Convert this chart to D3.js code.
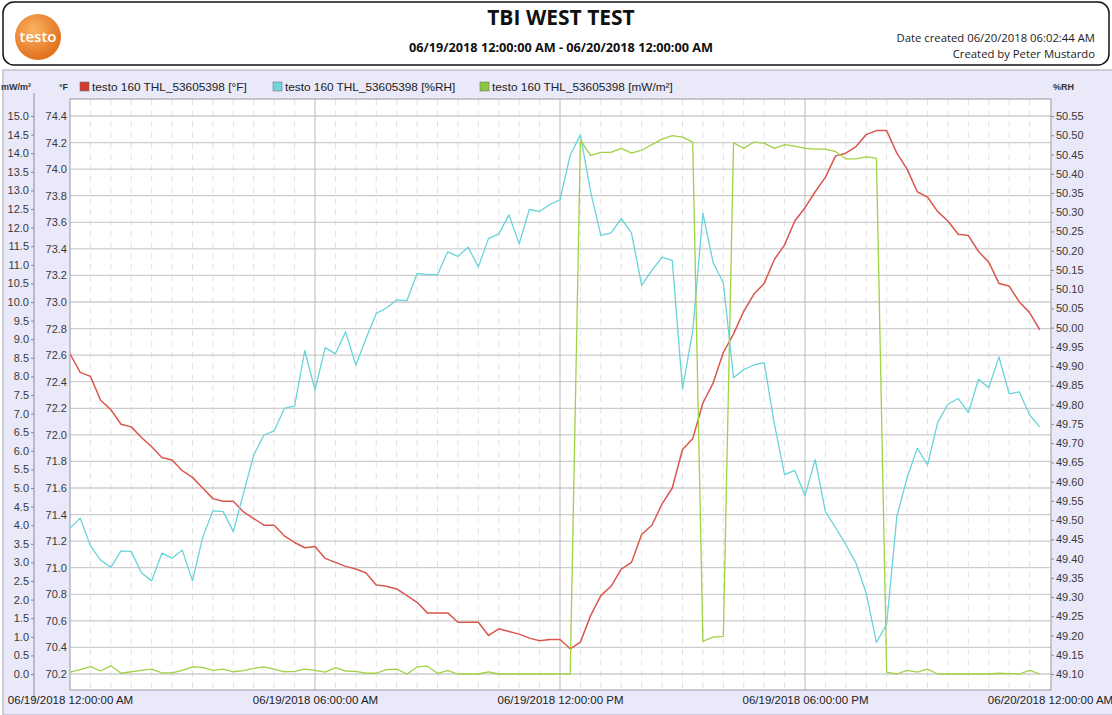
<!DOCTYPE html>
<html>
<head>
<meta charset="utf-8">
<script src="https://cdn.jsdelivr.net/npm/d3@7"></script>
<style>
  html, body { margin: 0; padding: 0; background: #fff; overflow: hidden; }
  svg { display: block; }
  .tick text { font-family: "Liberation Sans", Arial, sans-serif; }
</style>
</head>
<body>
<div id="graph"></div>
<script>
'use strict';

// ---- data (15 minute readings, 06/19/2018 00:00 -> 23:45) ----
const startTime = new Date(2018, 5, 19, 0, 0, 0);
const stepMinutes = 15;

const tempF = [
  72.61, 72.47, 72.44, 72.26, 72.19, 72.08, 72.06, 71.98, 71.91, 71.83, 71.81, 71.73,
  71.68, 71.60, 71.52, 71.50, 71.50, 71.42, 71.37, 71.32, 71.32, 71.24, 71.19, 71.15,
  71.16, 71.07, 71.04, 71.01, 70.99, 70.96, 70.87, 70.86, 70.84, 70.79, 70.74, 70.66,
  70.66, 70.66, 70.59, 70.59, 70.59, 70.49, 70.54, 70.52, 70.50, 70.47, 70.45, 70.46,
  70.46, 70.39, 70.44, 70.64, 70.79, 70.86, 70.99, 71.04, 71.25, 71.32, 71.48, 71.60,
  71.89, 71.97, 72.24, 72.39, 72.62, 72.76, 72.93, 73.06, 73.14, 73.32, 73.43, 73.61,
  73.71, 73.83, 73.94, 74.10, 74.12, 74.17, 74.26, 74.29, 74.29, 74.12, 74.00, 73.83,
  73.79, 73.68, 73.61, 73.51, 73.50, 73.38, 73.30, 73.14, 73.12, 73.00, 72.92, 72.79
];

const humidityRH = [
  49.479, 49.505, 49.433, 49.396, 49.377, 49.420, 49.418, 49.363, 49.342, 49.414, 49.401, 49.422,
  49.342, 49.455, 49.524, 49.522, 49.470, 49.570, 49.669, 49.721, 49.732, 49.790, 49.796, 49.940,
  49.838, 49.948, 49.932, 49.989, 49.903, 49.972, 50.037, 50.051, 50.072, 50.070, 50.141, 50.138,
  50.138, 50.197, 50.185, 50.209, 50.158, 50.232, 50.243, 50.293, 50.218, 50.307, 50.302, 50.320,
  50.332, 50.448, 50.501, 50.353, 50.240, 50.246, 50.283, 50.246, 50.110, 50.149, 50.183, 50.174,
  49.841, 49.991, 50.297, 50.169, 50.116, 49.870, 49.891, 49.903, 49.909, 49.750, 49.618, 49.629,
  49.563, 49.657, 49.522, 49.480, 49.436, 49.388, 49.309, 49.182, 49.230, 49.510, 49.610, 49.687,
  49.643, 49.754, 49.801, 49.816, 49.779, 49.866, 49.844, 49.924, 49.828, 49.833, 49.773, 49.742
];

const lightMW = [
  0.05, 0.12, 0.20, 0.08, 0.22, 0.02, 0.06, 0.10, 0.13, 0.03, 0.03, 0.10,
  0.19, 0.18, 0.10, 0.13, 0.06, 0.09, 0.15, 0.19, 0.13, 0.06, 0.07, 0.13,
  0.10, 0.05, 0.17, 0.08, 0.07, 0.02, 0.02, 0.12, 0.13, 0.00, 0.19, 0.21,
  0.02, 0.09, 0.00, 0.00, 0.00, 0.06, 0.00, 0.00, 0.00, 0.00, 0.00, 0.00,
  0.00, 0.00, 14.35, 13.94, 14.02, 14.02, 14.13, 14.00, 14.08, 14.23, 14.38, 14.47,
  14.43, 14.30, 0.88, 0.99, 1.01, 14.28, 14.13, 14.30, 14.27, 14.13, 14.23, 14.19,
  14.13, 14.11, 14.11, 14.04, 13.85, 13.85, 13.90, 13.87, 0.05, 0.00, 0.10, 0.05,
  0.13, 0.00, 0.00, 0.00, 0.00, 0.00, 0.00, 0.02, 0.01, 0.00, 0.10, 0.00
];

const seriesNames = [
  "testo 160 THL_53605398 [°F]",
  "testo 160 THL_53605398 [%RH]",
  "testo 160 THL_53605398 [mW/m²]"
];

const tempTicks = [70.2, 70.4, 70.6, 70.8, 71.0, 71.2, 71.4, 71.6, 71.8, 72.0, 72.2,
  72.4, 72.6, 72.8, 73.0, 73.2, 73.4, 73.6, 73.8, 74.0, 74.2, 74.4];
const mwTicks = [0, 0.5, 1, 1.5, 2, 2.5, 3, 3.5, 4, 4.5, 5, 5.5, 6, 6.5, 7, 7.5, 8,
  8.5, 9, 9.5, 10, 10.5, 11, 11.5, 12, 12.5, 13, 13.5, 14, 14.5, 15];
const rhTicks = [49.10, 49.15, 49.20, 49.25, 49.30, 49.35, 49.40, 49.45, 49.50, 49.55,
  49.60, 49.65, 49.70, 49.75, 49.80, 49.85, 49.90, 49.95, 50.00, 50.05, 50.10, 50.15,
  50.20, 50.25, 50.30, 50.35, 50.40, 50.45, 50.50, 50.55];
const xTickTimes = ["2018-06-19 00:00", "2018-06-19 06:00", "2018-06-19 12:00",
  "2018-06-19 18:00", "2018-06-20 00:00"];

const colors = { temp: "#d9574c", rh: "#68d4db", mw: "#a2d145" };
const legendColors = ["#d23a2e", "#6dd6dc", "#8cc63f"];

const W = 1112, H = 715;
const plot = { left: 70, right: 1051, top: 99, bottom: 690 };

const svg = d3.select("#graph").append("svg")
  .attr("width", W).attr("height", H);

// ---- header ----
svg.append("rect")
  .attr("x", 3).attr("y", 2).attr("width", 1106).attr("height", 63)
  .attr("rx", 11).attr("fill", "#fff").attr("stroke", "#111").attr("stroke-width", 1.5);

const defs = svg.append("defs");
const grad = defs.append("radialGradient").attr("id", "logoGrad")
  .attr("cx", "40%").attr("cy", "35%").attr("r", "65%");
grad.append("stop").attr("offset", "0%").attr("stop-color", "#f9b463");
grad.append("stop").attr("offset", "100%").attr("stop-color", "#e2701c");
svg.append("circle").attr("cx", 38).attr("cy", 37).attr("r", 23).attr("fill", "url(#logoGrad)");
svg.append("text").attr("x", 38).attr("y", 42).attr("text-anchor", "middle")
  .style("font-family", "'Open Sans', sans-serif").style("font-size", "15px")
  .style("font-weight", "600").attr("fill", "#fff").text("testo");

svg.append("text").attr("x", 561).attr("y", 25).attr("text-anchor", "middle")
  .style("font-family", "'Open Sans', sans-serif").style("font-size", "21px")
  .style("font-weight", "bold").attr("fill", "#111").text("TBI WEST TEST");
svg.append("text").attr("x", 561).attr("y", 52).attr("text-anchor", "middle")
  .style("font-family", "'Open Sans', sans-serif").style("font-size", "12.7px")
  .style("font-weight", "bold").attr("fill", "#111")
  .text("06/19/2018 12:00:00 AM - 06/20/2018 12:00:00 AM");
svg.append("text").attr("x", 1095).attr("y", 42).attr("text-anchor", "end")
  .style("font-family", "'Open Sans', sans-serif").style("font-size", "11.3px")
  .attr("fill", "#222").text("Date created 06/20/2018 06:02:44 AM");
svg.append("text").attr("x", 1095).attr("y", 58).attr("text-anchor", "end")
  .style("font-family", "'Open Sans', sans-serif").style("font-size", "11.3px")
  .attr("fill", "#222").text("Created by Peter Mustardo");

// ---- chart panel ----
svg.append("rect")
  .attr("x", 3).attr("y", 70).attr("width", W).attr("height", H - 70)
  .attr("fill", "#e9e9f9").attr("stroke", "#b4b4c4").attr("stroke-width", 1.2);

svg.append("rect")
  .attr("x", plot.left).attr("y", plot.top)
  .attr("width", plot.right - plot.left).attr("height", plot.bottom - plot.top)
  .attr("fill", "#fff");

// scales
const times = tempF.map((d, i) => d3.timeMinute.offset(startTime, i * stepMinutes));
const parseTick = d3.timeParse("%Y-%m-%d %H:%M");
const xTicks = xTickTimes.map(parseTick);

const x = d3.scaleTime().domain([xTicks[0], xTicks[xTicks.length - 1]]).range([70, 1050]);
const yTemp = d3.scaleLinear().domain([70.2, 74.4]).range([674, 116]);
const yMw = d3.scaleLinear().domain([0, 15]).range([674, 116]);
const yRh = d3.scaleLinear().domain([49.10, 50.55]).range([674, 116]);

// minor dashed vertical grid every 30 min
const minorTimes = d3.timeMinute.every(30).range(xTicks[0], xTicks[xTicks.length - 1]);
svg.append("g").selectAll("line")
  .data(minorTimes.filter(t => t.getMinutes() !== 0 || t.getHours() % 6 !== 0))
  .enter().append("line")
  .attr("x1", d => x(d)).attr("x2", d => x(d))
  .attr("y1", plot.top).attr("y2", plot.bottom)
  .attr("stroke", "#e2e2e2").attr("stroke-width", 1).attr("stroke-dasharray", "6,5");

// horizontal grid at temperature ticks
svg.append("g").selectAll("line")
  .data(tempTicks).enter().append("line")
  .attr("x1", plot.left).attr("x2", plot.right)
  .attr("y1", d => yTemp(d)).attr("y2", d => yTemp(d))
  .attr("stroke", "#cdcdcd").attr("stroke-width", 1.3);

// major vertical grid
svg.append("g").selectAll("line")
  .data(xTicks.slice(1, -1)).enter().append("line")
  .attr("x1", d => x(d)).attr("x2", d => x(d))
  .attr("y1", plot.top).attr("y2", plot.bottom)
  .attr("stroke", "#b9b9b9").attr("stroke-width", 1);

// plot border
svg.append("rect")
  .attr("x", plot.left).attr("y", plot.top)
  .attr("width", plot.right - plot.left).attr("height", plot.bottom - plot.top)
  .attr("fill", "none").attr("stroke", "#a8a8b0").attr("stroke-width", 1.2);

// ---- axes ----
function styleAxis(g) {
  g.selectAll("text")
    .style("font-size", "11px").attr("fill", "#3a3a3a");
  g.selectAll(".tick line").attr("stroke", "#8a8a9a");
}

const mwAxis = svg.append("g").attr("transform", "translate(34,0)")
  .call(d3.axisLeft(yMw).tickValues(mwTicks).tickFormat(d3.format(".1f"))
    .tickSize(3).tickPadding(2));
mwAxis.select(".domain").attr("d", `M0,${plot.top - 6}V${plot.bottom + 10}`)
  .attr("stroke", "#9a9aaa").attr("stroke-width", 1.2);
styleAxis(mwAxis);

const tempAxis = svg.append("g").attr("transform", `translate(${plot.left},0)`)
  .call(d3.axisLeft(yTemp).tickValues(tempTicks).tickFormat(d3.format(".1f"))
    .tickSize(0).tickPadding(3));
tempAxis.select(".domain").remove();
styleAxis(tempAxis);

const rhAxis = svg.append("g").attr("transform", `translate(${plot.right},0)`)
  .call(d3.axisRight(yRh).tickValues(rhTicks).tickFormat(d3.format(".2f"))
    .tickSize(3).tickPadding(2));
rhAxis.select(".domain").remove();
styleAxis(rhAxis);

const xAxis = svg.append("g").attr("transform", `translate(0,${plot.bottom})`)
  .call(d3.axisBottom(x).tickValues(xTicks)
    .tickFormat(d3.timeFormat("%m/%d/%Y %I:%M:%S %p")).tickSize(0).tickPadding(6));
xAxis.select(".domain").remove();
styleAxis(xAxis);
xAxis.selectAll("text").attr("fill", "#222").style("font-size", "11.5px");

// ---- lines ----
defs.append("clipPath").attr("id", "plotClip").append("rect")
  .attr("x", plot.left).attr("y", plot.top)
  .attr("width", plot.right - plot.left).attr("height", plot.bottom - plot.top);

const lineGroup = svg.append("g").attr("clip-path", "url(#plotClip)");

function drawLine(values, yScale, color, width) {
  const line = d3.line()
    .x((d, i) => x(times[i]))
    .y(d => yScale(d));
  lineGroup.append("path")
    .datum(values)
    .attr("d", line)
    .attr("fill", "none")
    .attr("stroke", color)
    .attr("stroke-width", width)
    .attr("stroke-linejoin", "round");
}

drawLine(tempF, yTemp, colors.temp, 1.5);
drawLine(humidityRH, yRh, colors.rh, 1.3);
drawLine(lightMW, yMw, colors.mw, 1.3);

// ---- legend & axis unit labels ----
const labelFont = "'Liberation Sans', Arial, sans-serif";
svg.append("text").attr("x", 1).attr("y", 90)
  .style("font-family", labelFont).style("font-size", "9px").style("font-weight", "bold")
  .attr("fill", "#333").text("mW/m²");
svg.append("text").attr("x", 59).attr("y", 90)
  .style("font-family", labelFont).style("font-size", "9px").style("font-weight", "bold")
  .attr("fill", "#333").text("°F");
svg.append("text").attr("x", 1053).attr("y", 90)
  .style("font-family", labelFont).style("font-size", "9px").style("font-weight", "bold")
  .attr("fill", "#333").text("%RH");

const legendX = [80, 273, 480];
const legend = svg.append("g").selectAll("g")
  .data(seriesNames).enter().append("g")
  .attr("transform", (d, i) => `translate(${legendX[i]},82)`);
legend.append("rect")
  .attr("width", 9).attr("height", 9)
  .attr("fill", (d, i) => legendColors[i])
  .attr("stroke", "#777").attr("stroke-width", 0.6);
legend.append("text")
  .attr("x", 12).attr("y", 9)
  .style("font-family", labelFont).style("font-size", "11.8px")
  .attr("fill", "#222").text(d => d);
</script>
</body>
</html>
